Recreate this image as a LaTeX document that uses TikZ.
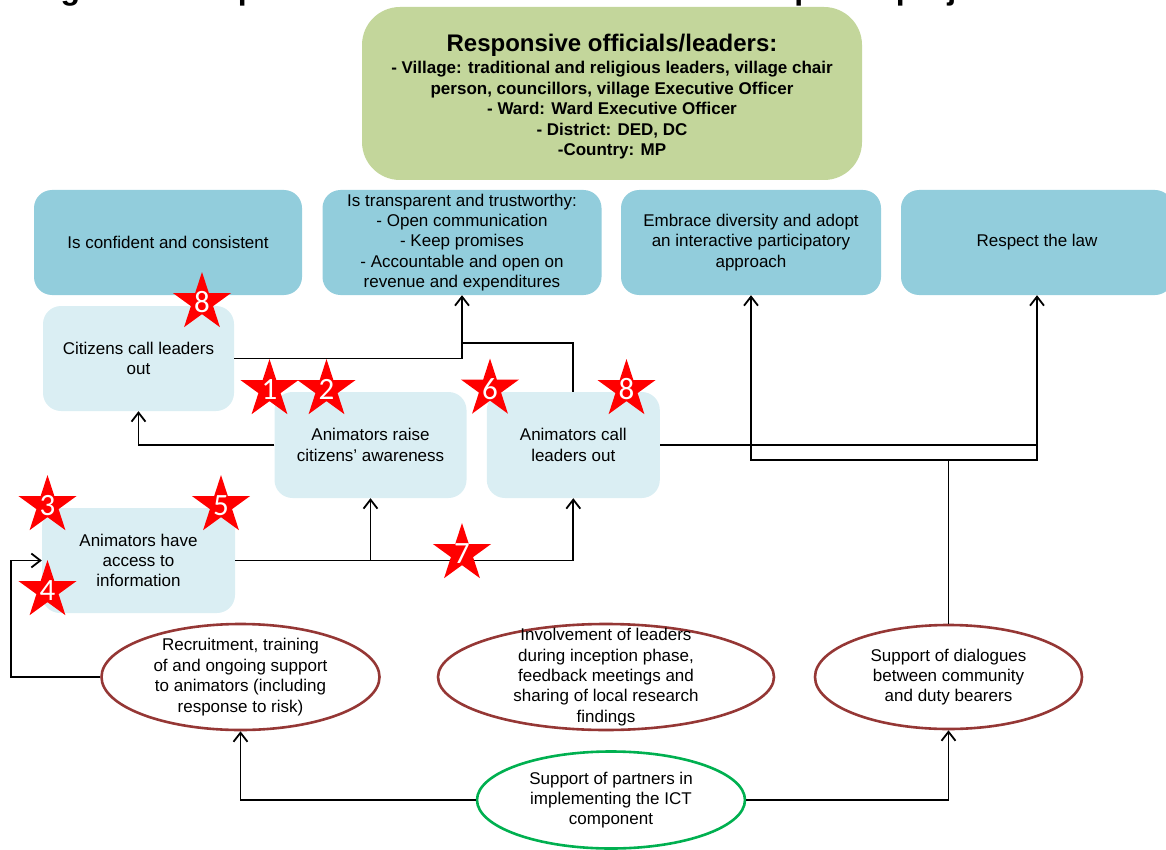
\documentclass[tikz,border=0pt]{standalone}
\usepackage{fontspec}
\setmainfont{Liberation Sans}
\newfontfamily\numfont{Carlito}
\usetikzlibrary{shapes.geometric,arrows.meta}

\definecolor{leafgreen}{HTML}{C3D69B}
\definecolor{aqua}{HTML}{92CDDC}
\definecolor{paleaqua}{HTML}{DAEEF3}
\definecolor{ovalred}{HTML}{953735}
\definecolor{ovalgreen}{HTML}{00B050}
\definecolor{starred}{HTML}{FF0000}

\tikzset{
  base/.style={font=\fontsize{17}{20.4}\selectfont, align=center, inner sep=0pt},
  bluebox/.style={base, rectangle, rounded corners=18pt, fill=aqua},
  palebox/.style={base, rectangle, rounded corners=18pt, fill=paleaqua},
  redoval/.style={ellipse, draw=ovalred, line width=2.6pt, inner sep=0pt},
  greenoval/.style={ellipse, draw=ovalgreen, line width=2.6pt, inner sep=0pt},
  starbadge/.style={star, star points=5, star point ratio=2.618, fill=starred,
    minimum size=61pt, inner sep=0pt},
  starnum/.style={text=white, font=\numfont\fontsize{31}{31}\selectfont, inner sep=0pt},
  link/.style={line width=1.8pt, black},
  arr/.style={-{Straight Barb[length=9pt,width=14pt]}}
}

\begin{document}
\begin{tikzpicture}[x=1pt, y={(0pt,-1pt)}]
\useasboundingbox (0,0) rectangle (1166,850);
\clip (0,0) rectangle (1166,850);

% heading, running off the top edge
\node[anchor=base west, inner sep=0pt, font=\fontsize{32}{32}\selectfont\bfseries]
  (heading) at (32,0) {Figure 5: Responsive leaders and their relationship with project activities};

% responsive officials
\node[rectangle, rounded corners=38pt, fill=leafgreen, minimum width=500pt,
  minimum height=173pt, inner sep=0pt] (officials) at (612,93.5) {};
\node[base, font=\fontsize{17}{20.4}\selectfont\bfseries] (officialstxt) at (612,96.8)
  {{\fontsize{24}{24}\selectfont Responsive officials/leaders:}\\[1.5pt]
   - Village: traditional and religious leaders, village chair\\
   person, councillors, village Executive Officer\\
   - Ward: Ward Executive Officer\\
   - District: DED, DC\\
   -Country: MP};

% leader qualities
\node[bluebox, minimum width=268pt, minimum height=105pt] (confident) at (168,242.5)
  {Is confident and consistent};
\node[bluebox, minimum width=279pt, minimum height=105pt] (trans) at (462,242.5)
  {Is transparent and trustworthy:\\- Open communication\\- Keep promises\\
   - Accountable and open on\\revenue and expenditures};
\node[bluebox, minimum width=260pt, minimum height=105pt] (embrace) at (751,242.5)
  {Embrace diversity and adopt\\an interactive participatory\\approach};
\node[bluebox, minimum width=272pt, minimum height=105pt] (law) at (1037,242.5)
  {Respect the law};

% community steps
\node[palebox, minimum width=191pt, minimum height=105pt] (citizens) at (138.5,358.5)
  {Citizens call leaders\\out};
\node[palebox, minimum width=192pt, minimum height=106pt] (aware) at (370.5,445)
  {Animators raise\\citizens' awareness};
\node[palebox, minimum width=173pt, minimum height=106pt] (callout) at (573.3,445)
  {Animators call\\leaders out};
\node[palebox, minimum width=193pt, minimum height=105pt] (access) at (138.5,560.5)
  {Animators have\\access to\\information};

% project activities
\node[redoval, minimum width=278pt, minimum height=106pt] (recruit) at (240.5,677) {};
\node[base] (recruittxt) at (recruit.center)
  {Recruitment, training\\of and ongoing support\\to animators (including\\response to risk)};
\node[redoval, minimum width=336pt, minimum height=106pt] (involve) at (606,677) {};
\node[base] (involvetxt) at (involve.center)
  {Involvement of leaders\\during inception phase,\\feedback meetings and\\sharing of local research\\findings};
\node[redoval, minimum width=267pt, minimum height=104pt] (dialog) at (948.5,677) {};
\node[base] (dialogtxt) at (dialog.center)
  {Support of dialogues\\between community\\and duty bearers};
\node[greenoval, minimum width=268pt, minimum height=97pt] (ict) at (611,800) {};
\node[base] (icttxt) at (ict.center)
  {Support of partners in\\implementing the ICT\\component};

% connector helpers
\coordinate (tj) at (462,343);
\coordinate (hub) at (948.5,460);
\coordinate (loopx) at (11,677);

% connectors
\draw[link, arr] (citizens.east) -| (trans.south);
\draw[link] (callout.north) |- (tj);
\draw[link, arr] (aware.west) -| (citizens.south);
\draw[link, arr] (access.east) -| (callout.south);
\draw[link, arr] (access.east -| aware.south) -- (aware.south);
\draw[link, arr] (recruit.west) -- (loopx) |- (access.west);
\draw[link] (callout.east) -- (callout.east -| law.south);
\draw[link] (dialog.north) -- (hub);
\draw[link, arr] (hub) -| (embrace.south);
\draw[link, arr] (hub) -| (law.south);
\draw[link, arr] (ict.west) -| (recruit.south);
\draw[link, arr] (ict.east) -| (dialog.south);

% numbered stars
\foreach \nm/\px/\py/\dg in {sa/202/302.5/8, sb/269.5/389.5/1, sc/326.5/389.5/2,
    sd/490/389/6, se/626.5/389.5/8, sf/47.5/505.5/3, sg/221/505.5/5,
    sh/47.5/590.5/4, si/462/553.5/7}{
  \node[starbadge] (\nm) at (\px,\py) {};
  \node[starnum] (\nm num) at (\nm.center) {\dg};
}
\end{tikzpicture}
\end{document}
